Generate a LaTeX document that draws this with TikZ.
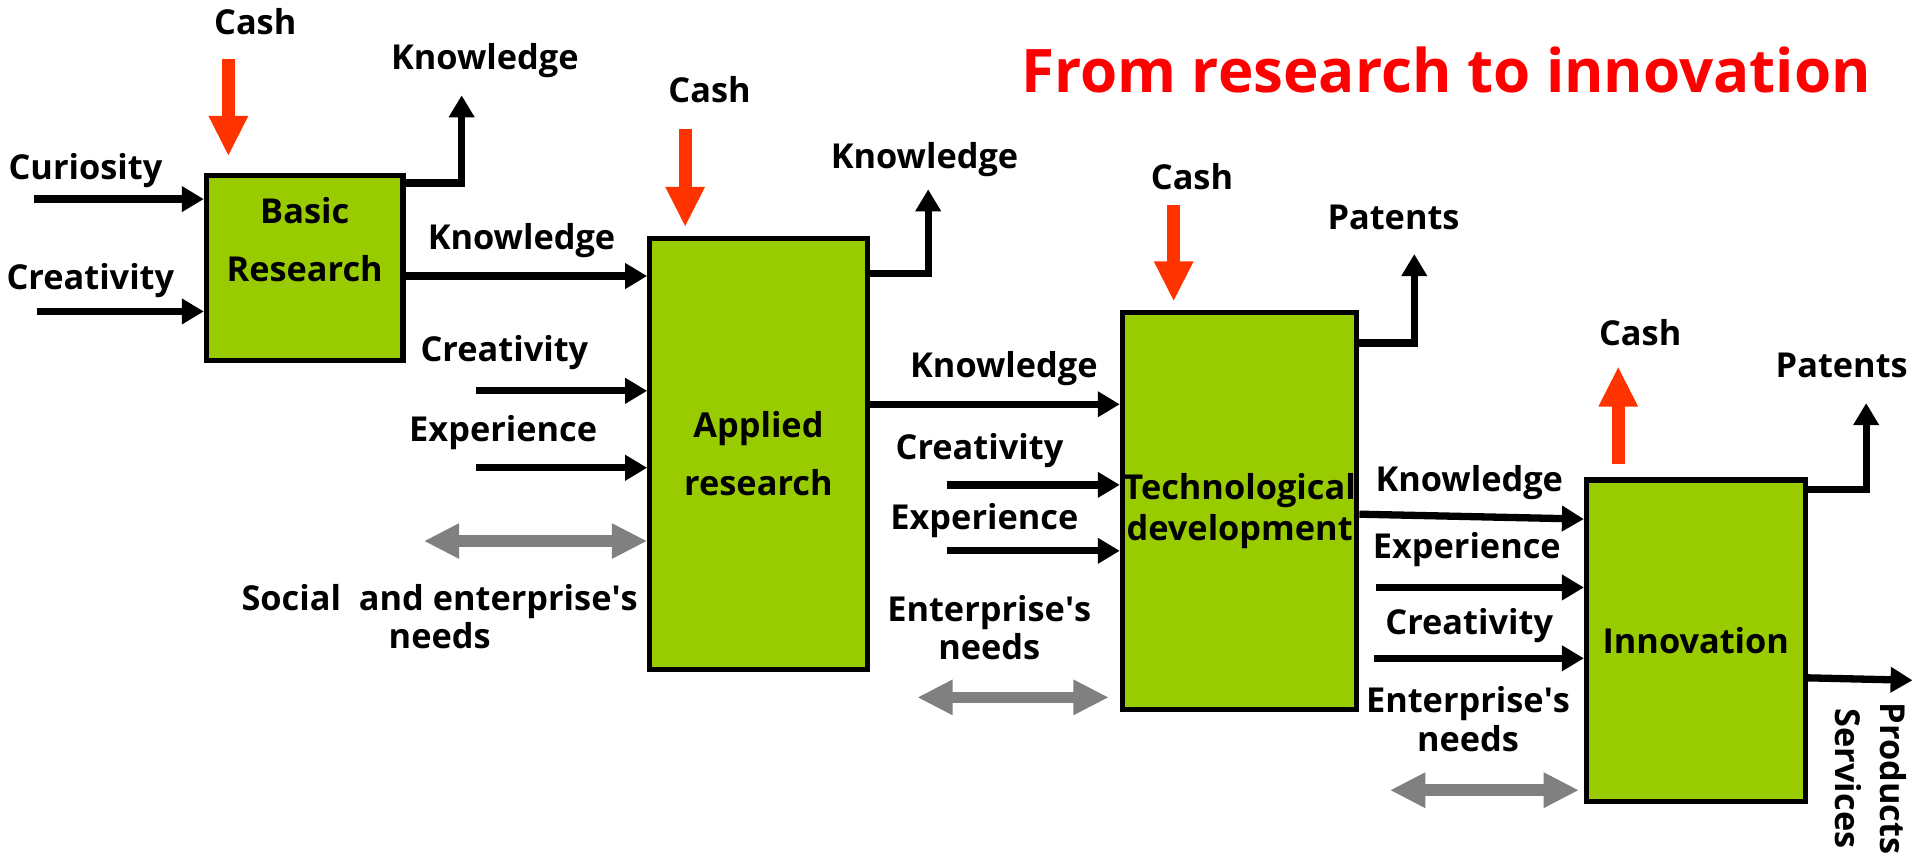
\documentclass[tikz,border=0pt]{standalone}
\usepackage{fontspec}
\setmainfont{Open Sans}
\usetikzlibrary{arrows.meta,positioning}

\definecolor{boxgreen}{HTML}{99CC00}
\definecolor{cashred}{HTML}{FF3300}
\definecolor{titlered}{HTML}{FF0000}
\definecolor{needgray}{HTML}{808080}

\begin{document}
\begin{tikzpicture}[x=0.02cm, y=-0.02cm,
    stage/.style={draw, line width=2.4pt, fill=boxgreen, inner sep=0pt, align=center,
                  font=\bfseries\fontsize{16}{19}\selectfont},
    lbl/.style={inner sep=0pt, align=center, font=\bfseries\fontsize{16}{18}\selectfont},
    flow/.style={line width=3.4pt, -{Triangle[length=0.36cm, width=0.4cm]}},
    cash/.style={cashred, line width=0.21cm, -{Triangle[length=0.66cm, width=0.6cm]}},
    need/.style={needgray, line width=0.19cm,
                 {Triangle[length=0.58cm, width=0.54cm]}-{Triangle[length=0.58cm, width=0.54cm]}}]

    \useasboundingbox (0,0) rectangle (1568,698);

    % the four stages
    \node (basic) [stage, minimum width=3.22cm, minimum height=3.02cm] at (249.5,219.5)
        {Basic\\[8pt]Research\\[8pt]\phantom{X}};
    \node (applied) [stage, minimum width=3.56cm, minimum height=7.06cm] at (621,371.5)
        {Applied\\[8pt]research};
    \node (tech) [stage, minimum width=3.84cm, minimum height=6.5cm] at (1015,418.5)
        {Technological\\development};
    \node (innov) [stage, minimum width=3.58cm, minimum height=5.26cm] at (1388.5,524.5)
        {Innovation};

    % labels
    \node (title) [lbl, text=titlered, font=\bfseries\fontsize{28}{33}\selectfont] at (1184,57)
        {From research to innovation};
    \node (lcash1) [lbl] at (209,18) {Cash};
    \node (lknow1) [lbl] at (397,50) {Knowledge};
    \node (lcur) [lbl] at (70,140) {Curiosity};
    \node (lcre1) [lbl] at (74,230) {Creativity};
    \node (lknow2) [lbl] at (427,197) {Knowledge};
    \node (lcash2) [lbl] at (581,73) {Cash};
    \node (lknow3) [lbl] at (757,131) {Knowledge};
    \node (lcre2) [lbl] at (413,289) {Creativity};
    \node (lexp2) [lbl] at (412,354) {Experience};
    \node (lneed2) [lbl] at (360,505) {Social\ \ and enterprise\textquotesingle s\\needs};
    \node (lknow4) [lbl] at (822,302) {Knowledge};
    \node (lcash3) [lbl] at (976,145) {Cash};
    \node (lpat1) [lbl] at (1141,178) {Patents};
    \node (lcre3) [lbl] at (802,369) {Creativity};
    \node (lexp3) [lbl] at (806,426) {Experience};
    \node (lneed3) [lbl] at (810,514) {Enterprise\textquotesingle s\\needs};
    \node (lknow5) [lbl] at (1203,395) {Knowledge};
    \node (lcash4) [lbl] at (1343,272) {Cash};
    \node (lpat2) [lbl] at (1508,299) {Patents};
    \node (lexp4) [lbl] at (1201,450) {Experience};
    \node (lcre4) [lbl] at (1203,512) {Creativity};
    \node (lneed4) [lbl] at (1202,589) {Enterprise\textquotesingle s\\needs};
    \node (lprod) [lbl, rotate=-90, anchor=west] at (1532,575) {Products\\[3pt]Services};

    % free ends
    \coordinate (curin) at (28,163);
    \coordinate (cre1in) at (30,255);
    \coordinate (cre2in) at (390,320);
    \coordinate (exp2in) at (390,383);
    \coordinate (cre3in) at (775,397);
    \coordinate (exp3in) at (775,451);
    \coordinate (exp4in) at (1127,481);
    \coordinate (cre4in) at (1125,539);
    \coordinate (kbin) at (530,226);
    \coordinate (ktin) at (917,331);
    \coordinate (knin) at (1297,425);
    \coordinate (kbout) at (378,78);
    \coordinate (kaout) at (760,155);
    \coordinate (patout1) at (1158,208);
    \coordinate (patout2) at (1528,330);
    \coordinate (prodout) at (1566,557);
    \coordinate (cash1in) at (187,48);
    \coordinate (cash2in) at (561,106);
    \coordinate (cash3in) at (961,168);
    \coordinate (cashout) at (1325,300);
    \coordinate (need2) at (347,443);
    \coordinate (need3) at (751,571);
    \coordinate (need4) at (1138,647);

    % inputs
    \draw [flow] (curin) -- (curin -| basic.west);
    \draw [flow] (cre1in) -- (cre1in -| basic.west);
    \draw [flow] (cre2in) -- (cre2in -| applied.west);
    \draw [flow] (exp2in) -- (exp2in -| applied.west);
    \draw [flow] (cre3in) -- (cre3in -| tech.west);
    \draw [flow] (exp3in) -- (exp3in -| tech.west);
    \draw [flow] (exp4in) -- (exp4in -| innov.west);
    \draw [flow] (cre4in) -- (cre4in -| innov.west);

    % knowledge passed on
    \draw [flow] (kbin -| basic.east) -- (kbin -| applied.west);
    \draw [flow] (ktin -| applied.east) -- (ktin -| tech.west);
    \draw [flow] ([yshift=0.08cm]knin -| tech.east) -- (knin -| innov.west);

    % outputs
    \draw [flow] ([yshift=-0.16cm]basic.north east) -| (kbout);
    \draw [flow] ([yshift=-0.62cm]applied.north east) -| (kaout);
    \draw [flow] ([yshift=-0.54cm]tech.north east) -| (patout1);
    \draw [flow] ([yshift=-0.2cm]innov.north east) -| (patout2);
    \draw [flow] ([yshift=0.04cm]prodout -| innov.east) -- (prodout);

    % cash
    \draw [cash] (cash1in) -- ([yshift=0.28cm]cash1in |- basic.north);
    \draw [cash] (cash2in) -- ([yshift=0.14cm]cash2in |- applied.north);
    \draw [cash] (cash3in) -- ([yshift=0.14cm]cash3in |- tech.north);
    \draw [cash] ([yshift=0.22cm]cashout |- innov.north) -- (cashout);

    % needs
    \draw [need] (need2) -- (need2 -| applied.west);
    \draw [need] (need3) -- ([xshift=-0.18cm]need3 -| tech.west);
    \draw [need] (need4) -- ([xshift=-0.08cm]need4 -| innov.west);
\end{tikzpicture}
\end{document}
